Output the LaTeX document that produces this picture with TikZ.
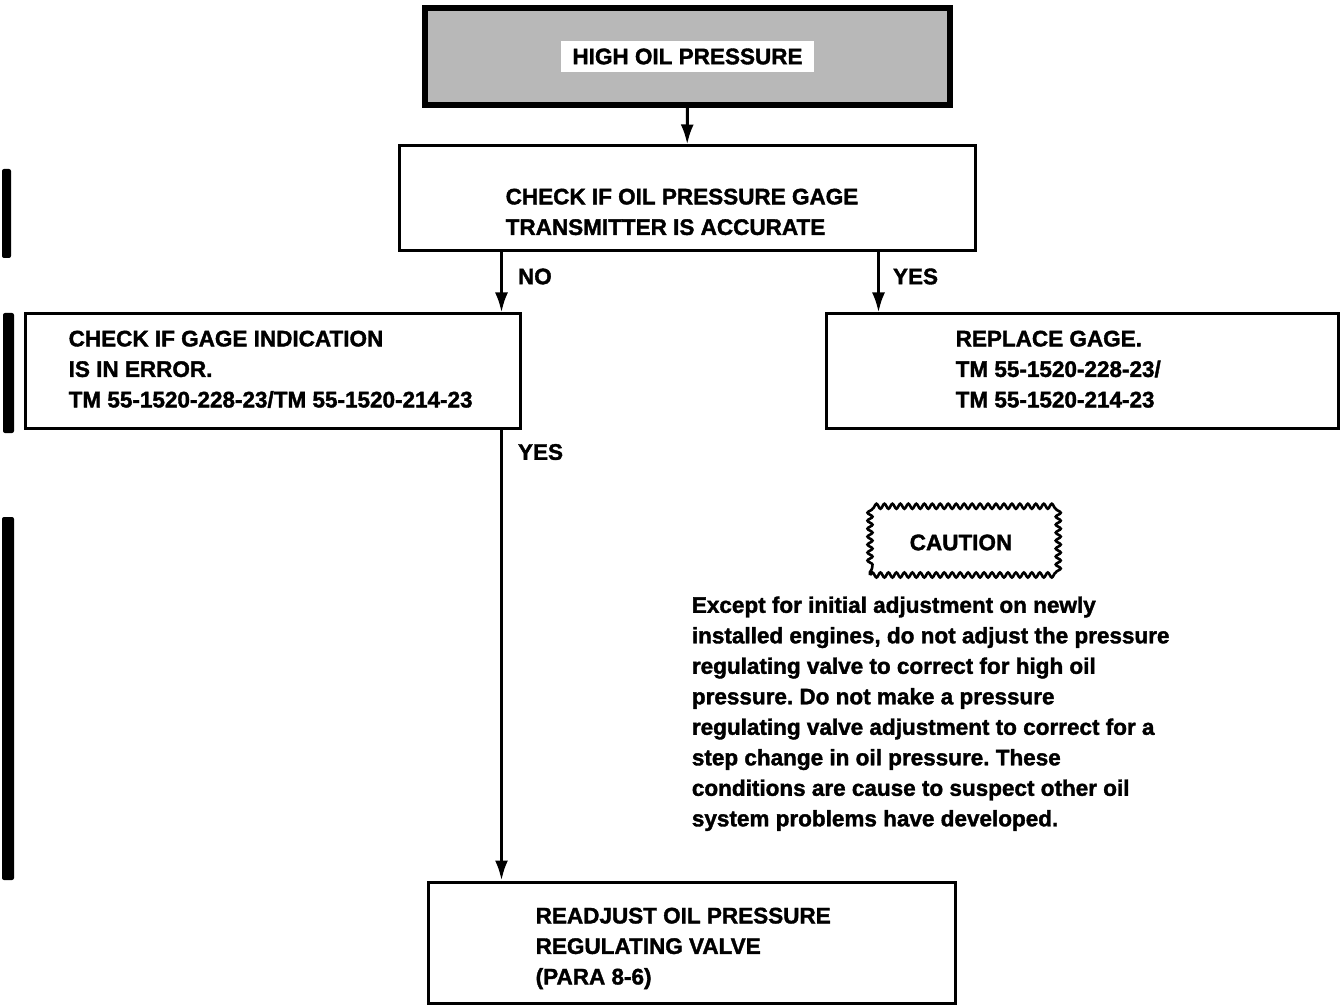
\documentclass[tikz,border=0pt]{standalone}
\usepackage{fontspec}
\setmainfont{Liberation Sans}[BoldFeatures={FakeBold=1.6}]
\usetikzlibrary{arrows.meta,positioning,decorations.pathmorphing}

\begin{document}
\frenchspacing
\begin{tikzpicture}[x=1pt, y=-1pt,
  font=\fontsize{22.5}{30.5}\selectfont\bfseries,
  frame/.style={draw, line width=3pt, inner sep=0pt},
  txt/.style={align=left, inner sep=0pt, anchor=north west},
  arr/.style={-{Latex[length=20pt, width=13pt]}, line width=3pt},
  lbl/.style={right, inner sep=0pt, xshift=15pt},
  bar/.style={fill=black, rounded corners=2pt}]
  \useasboundingbox (0,0) rectangle (1344,1008);
  % title
  \node[frame, line width=5.5pt, fill=black!28, minimum width=525pt, minimum height=97pt] (high) at (687.5,56.5) {};
  \node[fill=white, inner xsep=11pt, inner ysep=8pt] (hightxt) at (high) {HIGH OIL PRESSURE};
  % boxes
  \node[frame, minimum width=576pt, minimum height=105pt] (acc) at (687,198.5) {};
  \node[txt] (acctxt) at ([xshift=108pt, yshift=-44pt]acc.north west) {CHECK IF OIL PRESSURE GAGE\\TRANSMITTER IS ACCURATE};
  \node[frame, minimum width=495pt, minimum height=114pt] (gage) at (272.5,371) {};
  \node[txt] (gagetxt) at ([xshift=45pt, yshift=-18pt]gage.north west) {CHECK IF GAGE INDICATION\\IS IN ERROR.\\TM 55-1520-228-23/TM 55-1520-214-23};
  \node[frame, minimum width=512pt, minimum height=114pt] (repl) at (1082,371) {};
  \node[txt] (repltxt) at ([xshift=131pt, yshift=-18pt]repl.north west) {REPLACE GAGE.\\TM 55-1520-228-23/\\TM 55-1520-214-23};
  \node[frame, minimum width=527pt, minimum height=121pt] (readj) at (691.5,942.5) {};
  \node[txt] (readjtxt) at ([xshift=109pt, yshift=-27pt]readj.north west) {READJUST OIL PRESSURE\\REGULATING VALVE\\(PARA 8-6)};
  % caution note, 62 waves round the border
  \node[draw, line width=2.6pt, decorate, decoration={snake, segment length=7.9677pt, amplitude=2.5pt},
    minimum width=182pt, minimum height=65pt] (caut) at (961,542.5) {CAUTION};
  \node[txt] (note) at ([xshift=-177pt, yshift=-20pt]caut.south west) {Except for initial adjustment on newly\\installed engines, do not adjust the pressure\\regulating valve to correct for high oil\\pressure. Do not make a pressure\\regulating valve adjustment to correct for a\\step change in oil pressure. These\\conditions are cause to suspect other oil\\system problems have developed.};
  % connectors
  \coordinate (nox) at ([xshift=-20pt]gage.north east);
  \coordinate (yesx) at ([xshift=54pt]repl.north west);
  \draw[arr] (high) -- (acc);
  \draw[arr] (acc.south -| nox) -- node[lbl, pos=0.4] {NO} (nox);
  \draw[arr] (acc.south -| yesx) -- node[lbl, pos=0.4, xshift=-2pt] {YES} (yesx);
  \draw[arr] (nox |- gage.south) -- node[lbl, pos=0.05] {YES} (nox |- readj.north);
  % change bars
  \fill[bar] (2,169) rectangle (11,258);
  \fill[bar] (3,313) rectangle (14,433);
  \fill[bar] (2,517) rectangle (14,880);
\end{tikzpicture}
\end{document}
